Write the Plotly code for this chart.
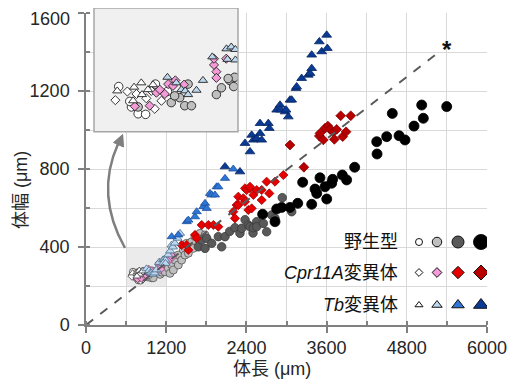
import plotly.graph_objects as go

# ---------------- data ----------------
wt1_x = [703, 756, 784, 815, 856, 906, 749]
wt1_y = [273, 240, 229, 228, 277, 265, 249]
wt2_x = [784, 922, 957, 978, 1006, 992, 936, 1110, 1131, 1165, 1186, 1159, 1182, 1232, 1257,
         1282, 1307, 1332, 1381, 1381, 1431, 1456, 1481, 1507, 1531, 1581, 1606, 1631, 1706, 1781]
wt2_y = [240, 247, 255, 242, 242, 277, 258, 260, 271, 283, 288, 286, 273, 291, 265,
         308, 282, 333, 359, 308, 333, 385, 359, 419, 368, 427, 393, 453, 470, 462]
wt3_x = [1681, 1731, 1781, 1806, 1881, 1980, 2030, 2080, 2150, 2229, 2304, 2330, 2380, 2429, 2454,
         2499, 2504, 2554, 2554, 2653, 2703, 2778, 2828, 2937, 3078]
wt3_y = [401, 436, 393, 445, 419, 453, 401, 453, 480, 499, 470, 496, 540, 513, 504,
         472, 499, 530, 504, 521, 478, 564, 547, 653, 581]
wt4_x = [2643, 2828, 2853, 2928, 3052, 3168, 3242, 3377, 3427, 3452, 3501, 3576, 3602, 3676, 3691,
         3835, 3900, 4020, 4350, 4355, 4499, 4684, 4773, 4583, 4908, 5047, 5023, 5397]
wt4_y = [568, 530, 595, 603, 603, 624, 732, 619, 697, 675, 755, 709, 646, 727, 747,
         769, 744, 809, 940, 877, 966, 971, 949, 1085, 1020, 1060, 1128, 1120]

cpr1_x = [689, 739, 777, 818, 853, 881, 839]
cpr1_y = [251, 265, 261, 254, 237, 250, 266]
cpr2_x = [770, 832, 860, 874, 895, 909, 929, 939, 975, 1100, 1100, 1110, 1110, 1151, 1230, 1290]
cpr2_y = [241, 242, 263, 268, 261, 277, 274, 283, 276, 308, 318, 297, 287, 318, 330, 350]
cpr3_x = [1431, 1507, 1531, 1631, 1656, 1731, 1831, 1906, 1980, 2204, 2229, 2254, 2279, 2279, 2354,
          2379, 2379, 2404, 2429, 2454, 2454, 2479, 2504, 2554, 2629, 2629, 2703, 2743, 2828, 2953]
cpr3_y = [410, 410, 385, 462, 445, 513, 513, 513, 504, 581, 547, 615, 615, 658, 650,
          632, 701, 692, 590, 701, 709, 598, 667, 692, 692, 641, 735, 675, 735, 769]
cpr4_x = [3052, 3260, 3491, 3501, 3551, 3576, 3620, 3651, 3700, 3716, 3751, 3811, 3841, 3891, 3961]
cpr4_y = [923, 809, 969, 983, 949, 1009, 1020, 1003, 990, 952, 1003, 1073, 966, 991, 1073]

tb1_x = [697, 767, 797, 825, 800, 763, 846]
tb1_y = [266, 272, 279, 268, 260, 250, 276]
tb2_x = [906, 943, 964, 980, 992, 1027, 1054, 1093, 1152, 1172, 1189, 1156, 1189, 1230, 1260,
         1280, 1300, 1330, 1370, 1407]
tb2_y = [288, 279, 268, 266, 260, 267, 283, 321, 334, 337, 333, 317, 316, 360, 380,
         410, 400, 420, 445, 470]
tb3_x = [1282, 1381, 1507, 1531, 1631, 1656, 1756, 1781, 1806, 1856, 1880, 1930, 1955, 1980, 2080, 2204]
tb3_y = [453, 462, 530, 538, 555, 581, 607, 624, 598, 675, 667, 667, 709, 709, 752, 800]
tb4_x = [2080, 2304, 2379, 2454, 2479, 2504, 2554, 2604, 2629, 2604, 2728, 2743, 2853, 2903, 2913,
         2978, 2993, 3027, 3052, 3078, 3142, 3152, 3227, 3327, 3352, 3377, 3377, 3491, 3527, 3601, 3611]
tb4_y = [812, 786, 932, 889, 974, 949, 957, 983, 949, 1034, 1034, 1009, 1103, 1128, 1103,
         1094, 1103, 1068, 1154, 1154, 1214, 1222, 1265, 1282, 1291, 1316, 1385, 1453, 1402, 1487, 1419]

guide_x = [0, 5300]
guide_y = [0, 1405]

inset_x_range = [600, 1200]
inset_y_range = [200, 400]

x_ticks = [0, 1200, 2400, 3600, 4800, 6000]
y_ticks = [0, 400, 800, 1200, 1600]
y_ticktext = ["0", "400", "800", "1200", ""]   # top label drawn as annotation (page-edge)
y_top_label = "1600"
legend_labels = ["野生型", "<i>Cpr11A</i>変異体", "<i>Tb</i>変異体"]
x_title = "体長 (μm)"
y_title = "体幅 (μm)"

# ---------------- styles / layout helpers ----------------
FONT = "Liberation Sans, Arial, Noto Sans CJK JP, sans-serif"
wt_colors = ["#ffffff", "#bfbfbf", "#595959", "#000000"]
cpr_colors = ["#ffffff", "#f59ad9", "#e60000", "#b80000"]
tb_colors = ["#ffffff", "#bdd7ee", "#2e75d6", "#0b3a94"]
wt_line = ["#333333", "#555555", "#3a3a3a", "#000000"]
cpr_line = ["#333333", "#7a4a6a", "#a00000", "#800000"]
tb_line = ["#333333", "#4d6c8a", "#1c4f9a", "#06245f"]

# page offset (browser body margin) compensation: figure is drawn 8px right/down
OFF = 8
W, H = 515 - OFF, 386 - OFF
# plot area in reference pixels: x 86..487, y 13..325 ; paper spans ref y 8..325
ML, MR, MT, MB = 86 - OFF, 515 - 487, 0, 386 - 325
PW = 487 - 86
PH = 325 - OFF


def px(xr):
    return (xr - 86) / PW


def py(yr):
    return (325 - yr) / PH


groups = [
    ("circle", [(wt1_x, wt1_y), (wt2_x, wt2_y), (wt3_x, wt3_y), (wt4_x, wt4_y)],
     wt_colors, wt_line, [7, 8, 8.5, 10]),
    ("diamond", [(cpr1_x, cpr1_y), (cpr2_x, cpr2_y), (cpr3_x, cpr3_y), (cpr4_x, cpr4_y)],
     cpr_colors, cpr_line, [6.5, 7, 7, 7.5]),
    ("triangle-up", [(tb1_x, tb1_y), (tb2_x, tb2_y), (tb3_x, tb3_y), (tb4_x, tb4_y)],
     tb_colors, tb_line, [7, 8, 8, 8.5]),
]

fig = go.Figure()

for sym, data, cols, lcols, sizes in groups:
    for (xs, ys), c, lc, s in zip(data, cols, lcols, sizes):
        fig.add_trace(go.Scatter(x=xs, y=ys, mode="markers", xaxis="x", yaxis="y",
                                 marker=dict(symbol=sym, size=s, color=c, opacity=1,
                                             line=dict(color=lc, width=0.8)),
                                 showlegend=False, hoverinfo="skip"))

fig.add_trace(go.Scatter(x=guide_x, y=guide_y, mode="lines", xaxis="x", yaxis="y",
                         line=dict(color="#595959", width=2, dash="dash"),
                         showlegend=False, hoverinfo="skip"))

# inset background (filled area covering the inset axes range)
fig.add_trace(go.Scatter(
    x=[inset_x_range[0], inset_x_range[1], inset_x_range[1], inset_x_range[0], inset_x_range[0]],
    y=[inset_y_range[0], inset_y_range[0], inset_y_range[1], inset_y_range[1], inset_y_range[0]],
    mode="lines", fill="toself", fillcolor="#f0f0f0", line=dict(width=0),
    xaxis="x2", yaxis="y2", showlegend=False, hoverinfo="skip"))

inset_sizes = {"circle": 8.5, "diamond": 7, "triangle-up": 8}
for sym, data, cols, lcols, sizes in groups:
    for (xs, ys), c, lc, s in zip(data, cols, lcols, sizes):
        fig.add_trace(go.Scatter(x=xs, y=ys, mode="markers", xaxis="x2", yaxis="y2",
                                 marker=dict(symbol=sym, size=inset_sizes[sym], color=c, opacity=1,
                                             line=dict(color="#222222", width=0.9)),
                                 showlegend=False, hoverinfo="skip"))

# custom legend markers (pixel-space overlay axes)
leg_x = [419, 437, 458, 481]
leg_rows = [242, 272.5, 305]
leg_specs = [("circle", wt_colors, [7, 9.5, 12, 15]),
             ("diamond", cpr_colors, [6, 7.5, 9.5, 11.5]),
             ("triangle-up", tb_colors, [7, 9, 11, 13])]
for (sym, cols, szs), ry in zip(leg_specs, leg_rows):
    fig.add_trace(go.Scatter(x=leg_x, y=[ry] * 4, mode="markers", xaxis="x3", yaxis="y3",
                             marker=dict(symbol=sym, size=szs, color=cols, opacity=1,
                                         line=dict(color="#111111", width=1)),
                             showlegend=False, hoverinfo="skip"))

axis_col = "#808080"
grid_col = "#d9d9d9"
tickfont = dict(family=FONT, size=18, color="#262626")

annotations = []
for lab, ry in zip(legend_labels, leg_rows):
    annotations.append(dict(x=px(400), y=py(ry), xref="paper", yref="paper", text=lab,
                            showarrow=False, xanchor="right", yanchor="middle",
                            font=dict(family=FONT, size=18, color="#111111")))
annotations.append(dict(x=px(272), y=py(369), xref="paper", yref="paper", text=x_title,
                        showarrow=False, xanchor="center", yanchor="middle",
                        font=dict(family=FONT, size=18, color="#262626")))
annotations.append(dict(x=px(21), y=py(190), xref="paper", yref="paper", text=y_title,
                        showarrow=False, textangle=-90, xanchor="center", yanchor="middle",
                        font=dict(family=FONT, size=18, color="#262626")))
annotations.append(dict(x=px(447), y=py(50), xref="paper", yref="paper", text="<b>*</b>",
                        showarrow=False, xanchor="center", yanchor="middle",
                        font=dict(family=FONT, size=24, color="#111111")))
annotations.append(dict(x=px(72), y=py(18.5), xref="paper", yref="paper", text=y_top_label,
                        showarrow=False, xanchor="right", yanchor="middle",
                        font=tickfont))

arrow_path = (f"M {px(125)},{py(248)} Q {px(95)},{py(195)} {px(118)},{py(144)}")
head_path = (f"M {px(122.7)},{py(134.5)} L {px(113.5)},{py(142.5)} L {px(123.5)},{py(147)} Z")

inset_dom_x = [px(94), px(238)]
inset_dom_y = [py(131.7), 1.0]

shapes = [
    dict(type="rect", xref="x", yref="y", x0=600, x1=1200, y0=200, y1=400,
         fillcolor="#ebebeb", line=dict(width=0), layer="below"),
    dict(type="rect", xref="paper", yref="paper", x0=inset_dom_x[0], x1=inset_dom_x[1],
         y0=inset_dom_y[0], y1=inset_dom_y[1],
         fillcolor="rgba(0,0,0,0)", line=dict(color="#a6a6a6", width=1.5), layer="above"),
    dict(type="path", xref="paper", yref="paper", path=arrow_path,
         line=dict(color="#7f7f7f", width=2.5), layer="above"),
    dict(type="path", xref="paper", yref="paper", path=head_path,
         fillcolor="#7f7f7f", line=dict(color="#7f7f7f", width=1), layer="above"),
]

fig.update_layout(
    width=W, height=H, margin=dict(l=ML, r=MR, t=MT, b=MB, pad=0, autoexpand=False),
    paper_bgcolor="white", plot_bgcolor="rgba(0,0,0,0)",
    font=dict(family=FONT, color="#262626"),
    xaxis=dict(domain=[0, 1], range=[0, 6000], anchor="y",
               tickmode="array", tickvals=x_ticks, ticks="outside", ticklen=6,
               tickcolor=axis_col, tickwidth=1.5, showline=True, linecolor=axis_col, linewidth=1.5,
               showgrid=True, gridcolor=grid_col, gridwidth=1, zeroline=False,
               tickfont=tickfont, automargin=False, ticklabeloverflow="allow",
               minor=dict(dtick=600, tick0=0, showgrid=True, gridcolor=grid_col, gridwidth=1,
                          ticks="inside", ticklen=4, tickcolor=axis_col)),
    yaxis=dict(domain=[0, py(13)], range=[0, 1600], anchor="x",
               tickmode="array", tickvals=y_ticks, ticktext=y_ticktext,
               ticks="outside", ticklen=6, ticklabelstandoff=5,
               tickcolor=axis_col, tickwidth=1.5, showline=True, linecolor=axis_col, linewidth=1.5,
               showgrid=True, gridcolor=grid_col, gridwidth=1, zeroline=False,
               tickfont=tickfont, automargin=False, ticklabeloverflow="allow",
               minor=dict(dtick=200, tick0=0, showgrid=True, gridcolor=grid_col, gridwidth=1,
                          ticks="inside", ticklen=4, tickcolor=axis_col)),
    xaxis2=dict(domain=inset_dom_x, range=inset_x_range, anchor="y2", visible=False),
    yaxis2=dict(domain=inset_dom_y, range=inset_y_range, anchor="x2", visible=False),
    xaxis3=dict(domain=[0, 1], range=[86, 487], anchor="y3", visible=False),
    yaxis3=dict(domain=[0, 1], range=[325, OFF], anchor="x3", visible=False),
    annotations=annotations,
    shapes=shapes,
    showlegend=False,
)

fig.write_html("out.html")
